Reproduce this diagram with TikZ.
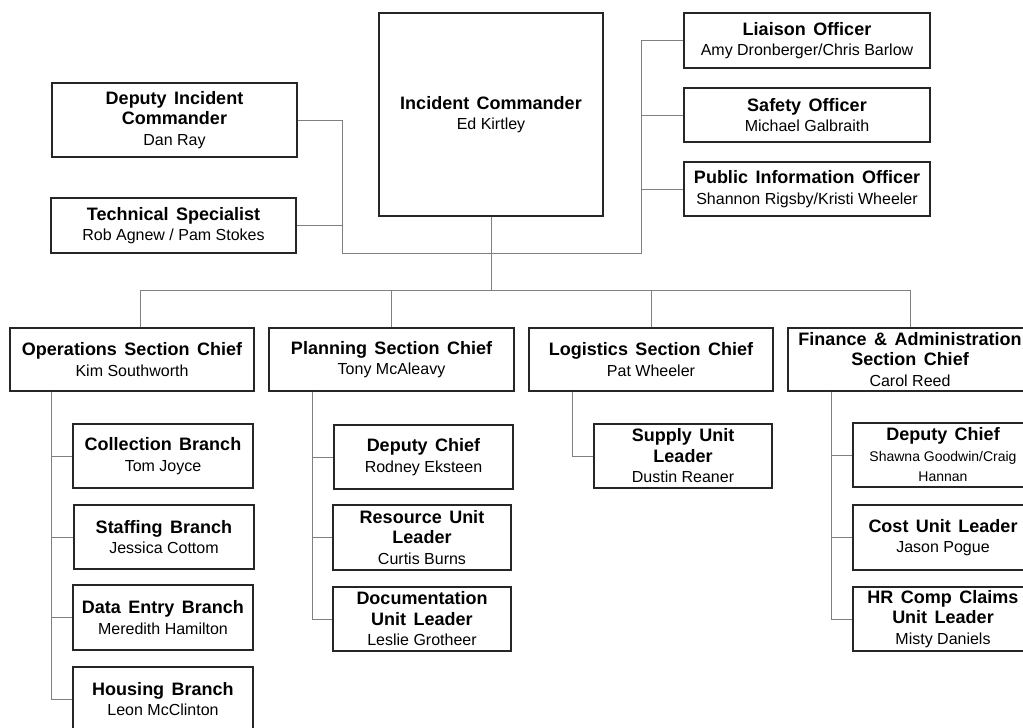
\documentclass[tikz,border=0pt]{standalone}
\usepackage{fontspec}
\setmainfont{Liberation Sans}[BoldFeatures={WordSpace=1.5}]
\newcommand\who[1]{{\fontsize{16}{20.5}\selectfont\mdseries #1}}
\newcommand\whosmall[1]{{\fontsize{14}{17}\selectfont\mdseries #1}}
\tikzset{
  unit/.style={draw=black!85, line width=1.1pt, fill=white, inner sep=1pt,
    align=center, font=\fontsize{18}{20.5}\selectfont\bfseries},
  link/.style={draw=black!50, line width=0.9pt}
}
\begin{document}
\begin{tikzpicture}[x=1pt,y=-1pt]
    \useasboundingbox (0,0) rectangle (1023,728);
    \clip (0,0) rectangle (1023,728);

    % Command staff
    \node[unit, minimum width=224, minimum height=203] (ic) at (491,114.5)
        {Incident Commander\\\who{Ed Kirtley}};
    \node[unit, minimum width=245, minimum height=74] (deputy) at (174.5,120)
        {Deputy Incident\\Commander\\\who{Dan Ray}};
    \node[unit, minimum width=245, minimum height=55] (tech) at (173.5,225.5)
        {Technical Specialist\\\who{Rob Agnew / Pam Stokes}};
    \node[unit, minimum width=246, minimum height=55] (liaison) at (807,40.5)
        {Liaison Officer\\\who{Amy Dronberger/Chris Barlow}};
    \node[unit, minimum width=246, minimum height=54] (safety) at (807,115)
        {Safety Officer\\\who{Michael Galbraith}};
    \node[unit, minimum width=246, minimum height=54] (pio) at (807,189)
        {Public Information Officer\\\who{Shannon Rigsby/Kristi Wheeler}};

    % Sections
    \node[unit, minimum width=244, minimum height=63] (ops) at (132,359.5)
        {Operations Section Chief\\\who{Kim Southworth}};
    \node[unit, minimum width=245, minimum height=63] (plan) at (391.5,359.5)
        {Planning Section Chief\\\who{Tony McAleavy}};
    \node[unit, minimum width=244, minimum height=63] (log) at (651,359.5)
        {Logistics Section Chief\\\who{Pat Wheeler}};
    \node[unit, minimum width=244, minimum height=63] (fin) at (910,359.5)
        {Finance \& Administration\\Section Chief\\\who{Carol Reed}};

    % Operations
    \node[unit, minimum width=180, minimum height=64] (collect) at (163,456)
        {Collection Branch\\\who{Tom Joyce}};
    \node[unit, minimum width=180, minimum height=64] (staffing) at (164,537)
        {Staffing Branch\\\who{Jessica Cottom}};
    \node[unit, minimum width=180, minimum height=65] (dataentry) at (163,617.5)
        {Data Entry Branch\\\who{Meredith Hamilton}};
    \node[unit, minimum width=180, minimum height=64] (housing) at (163,699)
        {Housing Branch\\\who{Leon McClinton}};

    % Planning
    \node[unit, minimum width=179, minimum height=64] (pdeputy) at (423.5,457)
        {Deputy Chief\\\who{Rodney Eksteen}};
    \node[unit, minimum width=178, minimum height=65] (resource) at (422,537.5)
        {Resource Unit\\Leader\\\who{Curtis Burns}};
    \node[unit, minimum width=178, minimum height=64] (docu) at (422,619)
        {Documentation\\Unit Leader\\\who{Leslie Grotheer}};

    % Logistics
    \node[unit, minimum width=178, minimum height=64] (supply) at (683,456)
        {Supply Unit\\Leader\\\who{Dustin Reaner}};

    % Finance
    \node[unit, minimum width=180, minimum height=64] (fdeputy) at (943,455)
        {Deputy Chief\\\whosmall{Shawna Goodwin/Craig}\\\whosmall{Hannan}};
    \node[unit, minimum width=180, minimum height=65] (cost) at (943,537.5)
        {Cost Unit Leader\\\who{Jason Pogue}};
    \node[unit, minimum width=180, minimum height=64] (hrcomp) at (943,619)
        {HR Comp Claims\\Unit Leader\\\who{Misty Daniels}};

    % Connectors
    \coordinate (staffL) at (342,253);
    \coordinate (staffR) at (641,253);
    \coordinate (hub) at (491,290);
    \draw[link] (deputy.east) -| (staffL) -- (staffR) |- (liaison.west);
    \draw[link] (tech.east) -| (staffL);
    \draw[link] (staffR) |- (safety.west);
    \draw[link] (staffR) |- (pio.west);
    \draw[link] (ic.south) -- (hub);
    \draw[link] ([xshift=8pt]ops.north) |- (hub);
    \foreach \s in {plan,log,fin}
        \draw[link] (\s.north) |- (hub);

    \foreach \c in {collect,staffing,dataentry,housing}
        \draw[link] ([xshift=42pt]ops.south west) |- (\c.west);
    \foreach \c in {pdeputy,resource,docu}
        \draw[link] ([xshift=44pt]plan.south west) |- (\c.west);
    \draw[link] ([xshift=44pt]log.south west) |- (supply.west);
    \foreach \c in {fdeputy,cost,hrcomp}
        \draw[link] ([xshift=44pt]fin.south west) |- (\c.west);
\end{tikzpicture}
\end{document}
